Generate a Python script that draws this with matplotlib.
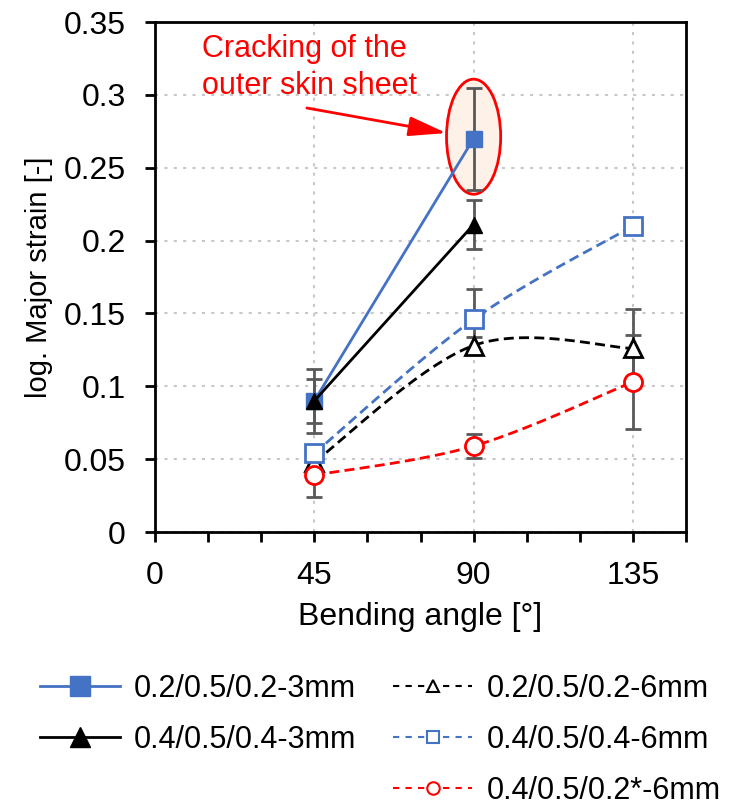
import numpy as np
import matplotlib
matplotlib.use("Agg")
import matplotlib.pyplot as plt
from matplotlib.lines import Line2D
from matplotlib.patches import Ellipse

plt.rcParams['font.family'] = ['Liberation Sans', 'DejaVu Sans']

# Bending angles [deg]
angles_3mm = [45, 90]
angles_6mm = [45, 90, 135]

# Major strain means and standard deviations
s1_label = "0.2/0.5/0.2-3mm"
s1_mean = [0.090, 0.270]
s1_err = [0.022, 0.035]

s2_label = "0.4/0.5/0.4-3mm"
s2_mean = [0.090, 0.211]
s2_err = [0.015, 0.017]

s3_label = "0.2/0.5/0.2-6mm"
s3_mean = [0.048, 0.128, 0.126]
s3_err = [0.005, 0.006, 0.027]

s4_label = "0.4/0.5/0.4-6mm"
s4_mean = [0.054, 0.146, 0.210]
s4_err = [0.005, 0.021, 0.002]

s5_label = "0.4/0.5/0.2*-6mm"
s5_mean = [0.039, 0.059, 0.103]
s5_err = [0.015, 0.008, 0.032]

x_ticks = [0, 45, 90, 135]
y_ticks = [0, 0.05, 0.1, 0.15, 0.2, 0.25, 0.3, 0.35]
y_ticklabels = ["0", "0.05", "0.1", "0.15", "0.2", "0.25", "0.3", "0.35"]

BLUE = "#4472C4"
RED = "#FF0000"
GREY = "#595959"


def smooth(xs, ys, n=60):
    """Catmull-Rom smoothed polyline through the given points."""
    P = np.column_stack([xs, ys]).astype(float)
    P = np.vstack([P[0], P, P[-1]])
    out = []
    for i in range(1, len(P) - 2):
        p0, p1, p2, p3 = P[i - 1], P[i], P[i + 1], P[i + 2]
        m1 = (p2 - p0) / 2
        m2 = (p3 - p1) / 2
        t = np.linspace(0, 1, n)[:, None]
        h00 = 2 * t**3 - 3 * t**2 + 1
        h10 = t**3 - 2 * t**2 + t
        h01 = -2 * t**3 + 3 * t**2
        h11 = t**3 - t**2
        out.append(h00 * p1 + h10 * m1 + h01 * p2 + h11 * m2)
    c = np.vstack(out)
    return c[:, 0], c[:, 1]


fig = plt.figure(figsize=(7.4, 8.1), dpi=100)
ax = fig.add_axes([0.2095, 0.3432, 0.7175, 0.6296])

ax.set_xlim(0, 150)
ax.set_ylim(0, 0.35)

# Error bars
eb = dict(fmt="none", ecolor=GREY, elinewidth=2, capsize=6, capthick=2, zorder=2)
ax.errorbar(angles_3mm, s1_mean, yerr=s1_err, **eb)
ax.errorbar(angles_3mm, s2_mean, yerr=s2_err, **eb)
ax.errorbar(angles_6mm, s3_mean, yerr=s3_err, **eb)
ax.errorbar(angles_6mm, s4_mean, yerr=s4_err, **eb)
ax.errorbar(angles_6mm, s5_mean, yerr=s5_err, **eb)

dash = (3.6, 1.9)

# 3 mm series: straight lines
ax.plot(angles_3mm, s1_mean, color=BLUE, lw=2, marker="s", ms=12,
        mfc=BLUE, mec=BLUE, zorder=4)
ax.plot(angles_3mm, s2_mean, color="black", lw=2, marker="^", ms=12,
        mfc="black", mec="black", zorder=4)

# 6 mm series: smoothed dashed lines
for ys, col, mk in [(s3_mean, "black", "^"), (s4_mean, BLUE, "s"), (s5_mean, RED, "o")]:
    cx, cy = smooth(angles_6mm, ys)
    ax.plot(cx, cy, color=col, lw=2, dashes=dash, zorder=3)
    ax.plot(angles_6mm, ys, ls="none", marker=mk, ms=13, mfc="white",
            mec=col, mew=2, zorder=4)

# Highlight of the cracked specimen
ell = Ellipse((90, 0.2713), width=15.3, height=0.079, facecolor="#FDF1E8",
              edgecolor=RED, lw=2, zorder=1)
ax.add_patch(ell)
ax.text(13.3, 0.3188, "Cracking of the\nouter skin sheet", color=RED, fontsize=22,
        ha="left", va="center", multialignment="left", linespacing=1.3, zorder=5)
ax.annotate("", xy=(82.3, 0.2738), xytext=(42.9, 0.291),
            arrowprops=dict(arrowstyle="-|>,head_length=2.3,head_width=0.6",
                            color=RED, lw=2, shrinkA=0, shrinkB=0), zorder=5)

# Axes styling
ax.set_xticks(x_ticks)
ax.set_xticks(np.arange(0, 151, 15), minor=True)
ax.set_yticks(y_ticks)
ax.set_yticklabels(y_ticklabels)
ax.tick_params(axis="both", which="major", labelsize=23, width=2, length=7,
               direction="out")
ax.tick_params(axis="x", which="major", pad=14)
ax.tick_params(axis="y", which="major", pad=14)
ax.tick_params(axis="x", which="minor", width=2, length=7, direction="out")
for sp in ax.spines.values():
    sp.set_linewidth(2)
ax.grid(True, which="major", color="#C8C8C8", ls=(0, (1.5, 3)), lw=1.5, zorder=0)
ax.set_axisbelow(True)

ax.set_xlabel("Bending angle [°]", fontsize=23, labelpad=8)
ax.set_ylabel("log. Major strain [-]", fontsize=21, labelpad=8)

# Legend in two columns below the plot
h1 = Line2D([], [], color=BLUE, lw=2, marker="s", ms=14, mfc=BLUE, mec=BLUE)
h2 = Line2D([], [], color="black", lw=2, marker="^", ms=14, mfc="black", mec="black")
blank = Line2D([], [], color="none")
h3 = Line2D([], [], color="black", lw=1.5, dashes=(3, 3), marker="^", ms=9,
            mfc="white", mec="black", mew=1.5)
h4 = Line2D([], [], color=BLUE, lw=1.5, dashes=(3, 3), marker="s", ms=9,
            mfc="white", mec=BLUE, mew=1.5)
h5 = Line2D([], [], color=RED, lw=1.5, dashes=(3, 3), marker="o", ms=9,
            mfc="white", mec=RED, mew=1.5)
fig.legend([h1, h2, blank, h3, h4, h5],
           [s1_label, s2_label, "", s3_label, s4_label, s5_label],
           ncol=2, loc="upper left", bbox_to_anchor=(0.038, 0.183),
           frameon=False, fontsize=22, handlelength=2.6, columnspacing=1.2,
           labelspacing=0.68, handletextpad=0.46, borderaxespad=0)

fig.savefig("out.png", dpi=100)
